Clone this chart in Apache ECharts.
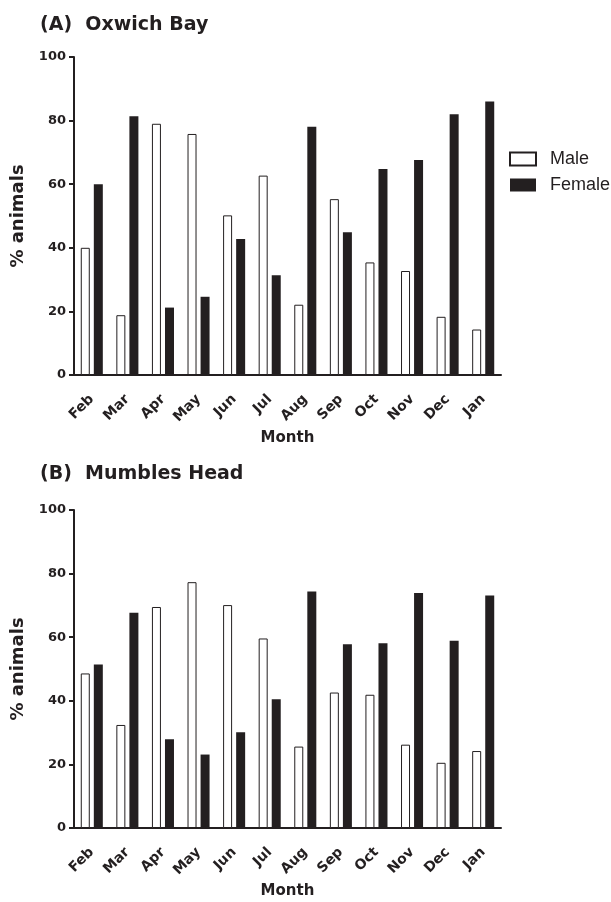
<!DOCTYPE html>
<html>
<head>
<meta charset="utf-8">
<script src="https://cdn.jsdelivr.net/npm/echarts@6/dist/echarts.min.js"></script>
<style>
  html, body { margin: 0; padding: 0; background: #fff; }
  #chart { width: 611px; height: 902px; }
</style>
</head>
<body>
<div id="chart"></div>
<script>
var months = ["Feb", "Mar", "Apr", "May", "Jun", "Jul", "Aug", "Sep", "Oct", "Nov", "Dec", "Jan"];
// (A) Oxwich Bay
var oxwichMale = [40, 18.8, 79, 75.8, 50.2, 62.7, 22.1, 55.3, 35.4, 32.7, 18.3, 14.3];
var oxwichFemale = [60, 81.4, 21.2, 24.6, 42.8, 31.4, 78.1, 44.9, 64.8, 67.6, 82, 86];
// (B) Mumbles Head
var mumblesMale = [48.6, 32.4, 69.5, 77.3, 70.1, 59.6, 25.6, 42.6, 41.9, 26.2, 20.5, 24.2];
var mumblesFemale = [51.4, 67.7, 27.9, 23.1, 30.1, 40.5, 74.4, 57.8, 58.1, 73.9, 58.9, 73.1];
var yTicks = [0, 20, 40, 60, 80, 100];

var ink = "#231f20";
var bold = "'DejaVu Sans', sans-serif";
var plain = "'Liberation Sans', Arial, sans-serif";

var myChart = echarts.init(document.getElementById("chart"));

function xAxisFor(idx) {
  return {
    type: "category",
    gridIndex: idx,
    data: months,
    name: "Month",
    nameLocation: "middle",
    nameGap: 56,
    nameMoveOverlap: false,
    nameTextStyle: { fontFamily: bold, fontWeight: "bold", fontSize: 15, color: ink },
    axisLine: { lineStyle: { color: ink, width: 2 } },
    axisTick: { alignWithLabel: true, length: 5, lineStyle: { color: ink, width: 2 } },
    axisLabel: { rotate: 45, margin: 22, fontFamily: bold, fontWeight: "bold", fontSize: 14, color: ink, interval: 0 },
    splitLine: { show: false }
  };
}

function yAxisFor(idx) {
  return {
    type: "value",
    gridIndex: idx,
    min: yTicks[0],
    max: yTicks[yTicks.length - 1],
    interval: 20,
    name: "% animals",
    nameLocation: "middle",
    nameGap: 47,
    nameMoveOverlap: false,
    nameTextStyle: { fontFamily: bold, fontWeight: "bold", fontSize: 18, color: ink },
    axisLine: { show: true, lineStyle: { color: ink, width: 2 } },
    axisTick: { show: true, length: 5, lineStyle: { color: ink, width: 2 } },
    axisLabel: { margin: 8, fontFamily: bold, fontWeight: "bold", fontSize: 13, color: ink },
    splitLine: { show: false }
  };
}

var maleStyle = { color: "#fff", borderColor: ink, borderWidth: 1 };
var femaleStyle = { color: ink };

var options = {
  animation: false,
  backgroundColor: "#fff",
  title: [
    { text: "(A)  Oxwich Bay", left: 40, top: 16, padding: 0,
      textStyle: { fontFamily: bold, fontWeight: "bold", fontSize: 19, color: ink } },
    { text: "(B)  Mumbles Head", left: 40, top: 465, padding: 0,
      textStyle: { fontFamily: bold, fontWeight: "bold", fontSize: 19, color: ink } }
  ],
  legend: {
    orient: "vertical",
    left: 509,
    top: 150,
    padding: 0,
    icon: "rect",
    itemWidth: 26,
    itemHeight: 13,
    itemGap: 8,
    data: ["Male", "Female"],
    textStyle: { fontFamily: plain, fontSize: 18, lineHeight: 18, color: ink, padding: [0, 0, 0, 9] }
  },
  grid: [
    { left: 74, top: 57, width: 427, height: 318 },
    { left: 74, top: 510, width: 427, height: 318 }
  ],
  xAxis: [xAxisFor(0), xAxisFor(1)],
  yAxis: [yAxisFor(0), yAxisFor(1)],
  series: [
    { name: "Male", type: "bar", xAxisIndex: 0, yAxisIndex: 0, data: oxwichMale,
      barWidth: 9, barGap: "45%", itemStyle: maleStyle },
    { name: "Female", type: "bar", xAxisIndex: 0, yAxisIndex: 0, data: oxwichFemale,
      barWidth: 9, barGap: "45%", itemStyle: femaleStyle },
    { name: "Male", type: "bar", xAxisIndex: 1, yAxisIndex: 1, data: mumblesMale,
      barWidth: 9, barGap: "45%", itemStyle: maleStyle },
    { name: "Female", type: "bar", xAxisIndex: 1, yAxisIndex: 1, data: mumblesFemale,
      barWidth: 9, barGap: "45%", itemStyle: femaleStyle }
  ]
};
myChart.setOption(options);
</script>
</body>
</html>
